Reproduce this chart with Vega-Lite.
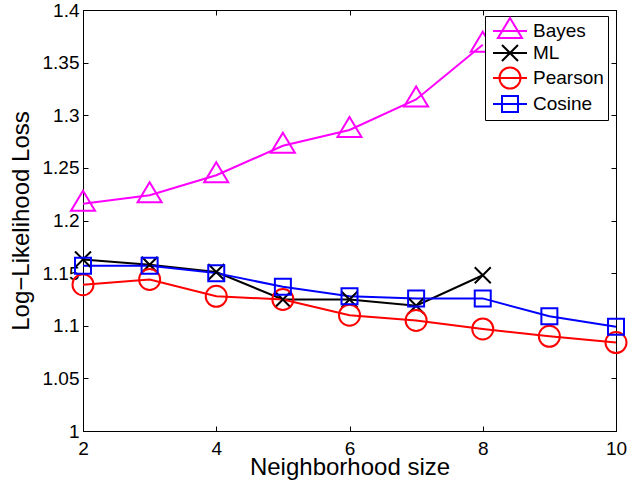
{
  "$schema": "https://vega.github.io/schema/vega-lite/v6.json",
  "autosize": "none",
  "width": 533,
  "height": 421,
  "padding": {"left": 83, "top": 10, "right": 13, "bottom": 49},
  "background": "white",
  "config": {
    "view": {"stroke": "black", "strokeWidth": 1},
    "font": "Liberation Sans",
    "axis": {
      "grid": false,
      "domainColor": "black",
      "tickColor": "black",
      "labelColor": "black",
      "titleColor": "black",
      "labelFont": "Liberation Sans",
      "titleFont": "Liberation Sans",
      "labelFontSize": 19,
      "titleFontSize": 24,
      "titleFontWeight": "normal",
      "tickSize": -5,
      "domainWidth": 1,
      "tickWidth": 1,
      "labelFlush": false,
      "labelOverlap": false
    }
  },
  "data": {
    "values": [
      {"k": 2, "series": "Bayes", "loss": 1.216},
      {"k": 3, "series": "Bayes", "loss": 1.224},
      {"k": 4, "series": "Bayes", "loss": 1.243},
      {"k": 5, "series": "Bayes", "loss": 1.271},
      {"k": 6, "series": "Bayes", "loss": 1.286},
      {"k": 7, "series": "Bayes", "loss": 1.315},
      {"k": 8, "series": "Bayes", "loss": 1.367},
      {"k": 2, "series": "ML", "loss": 1.163},
      {"k": 3, "series": "ML", "loss": 1.158},
      {"k": 4, "series": "ML", "loss": 1.151},
      {"k": 5, "series": "ML", "loss": 1.125},
      {"k": 6, "series": "ML", "loss": 1.125},
      {"k": 7, "series": "ML", "loss": 1.119},
      {"k": 8, "series": "ML", "loss": 1.148},
      {"k": 2, "series": "Pearson", "loss": 1.139},
      {"k": 3, "series": "Pearson", "loss": 1.144},
      {"k": 4, "series": "Pearson", "loss": 1.128},
      {"k": 5, "series": "Pearson", "loss": 1.125},
      {"k": 6, "series": "Pearson", "loss": 1.110},
      {"k": 7, "series": "Pearson", "loss": 1.105},
      {"k": 8, "series": "Pearson", "loss": 1.097},
      {"k": 9, "series": "Pearson", "loss": 1.090},
      {"k": 10, "series": "Pearson", "loss": 1.084},
      {"k": 2, "series": "Cosine", "loss": 1.157},
      {"k": 3, "series": "Cosine", "loss": 1.157},
      {"k": 4, "series": "Cosine", "loss": 1.150},
      {"k": 5, "series": "Cosine", "loss": 1.137},
      {"k": 6, "series": "Cosine", "loss": 1.128},
      {"k": 7, "series": "Cosine", "loss": 1.126},
      {"k": 8, "series": "Cosine", "loss": 1.126},
      {"k": 9, "series": "Cosine", "loss": 1.109},
      {"k": 10, "series": "Cosine", "loss": 1.099}
    ]
  },
  "layer": [
    {
      "mark": {"type": "line", "strokeWidth": 2},
      "encoding": {
        "x": {"field": "k", "type": "quantitative", "scale": {"domain": [2, 10], "nice": false},
              "axis": {"orient": "top", "labels": false, "title": null, "values": [2, 4, 6, 8, 10]}},
        "y": {"field": "loss", "type": "quantitative", "scale": {"domain": [1, 1.4], "nice": false, "zero": false},
              "axis": {"orient": "right", "labels": false, "title": null, "values": [1, 1.05, 1.1, 1.15, 1.2, 1.25, 1.3, 1.35, 1.4]}},
        "color": {"field": "series", "type": "nominal",
                  "scale": {"domain": ["Cosine", "Pearson", "ML", "Bayes"], "range": ["#0000ff", "#ff0000", "#000000", "#ff00ff"]},
                  "legend": null}
      }
    },
    {
      "transform": [{"filter": {"field": "series", "equal": "Bayes"}}],
      "mark": {"type": "point", "shape": "M0,-1.3L1.2,0.7L-1.2,0.7Z", "size": 400, "filled": false, "strokeWidth": 2, "opacity": 1},
      "encoding": {
        "x": {"field": "k", "type": "quantitative", "axis": null},
        "y": {"field": "loss", "type": "quantitative", "axis": null},
        "color": {"field": "series", "type": "nominal", "legend": null}
      }
    },
    {
      "transform": [{"filter": {"field": "series", "equal": "ML"}}],
      "mark": {"type": "point", "shape": "M-0.8,-0.8L0.8,0.8M-0.8,0.8L0.8,-0.8", "size": 400, "filled": false, "strokeWidth": 2, "opacity": 1},
      "encoding": {
        "x": {"field": "k", "type": "quantitative", "axis": null},
        "y": {"field": "loss", "type": "quantitative", "axis": null},
        "color": {"field": "series", "type": "nominal", "legend": null}
      }
    },
    {
      "transform": [{"filter": {"field": "series", "equal": "Pearson"}}],
      "mark": {"type": "point", "shape": "M1.05,0A1.05,1.05,0,1,1,-1.05,0A1.05,1.05,0,1,1,1.05,0Z", "size": 400, "filled": false, "strokeWidth": 2, "opacity": 1},
      "encoding": {
        "x": {"field": "k", "type": "quantitative", "axis": null},
        "y": {"field": "loss", "type": "quantitative", "axis": null},
        "color": {"field": "series", "type": "nominal", "legend": null}
      }
    },
    {
      "transform": [{"filter": {"field": "series", "equal": "Cosine"}}],
      "mark": {"type": "point", "shape": "M-0.8,-0.8L0.8,-0.8L0.8,0.8L-0.8,0.8Z", "size": 400, "filled": false, "strokeWidth": 2, "opacity": 1},
      "encoding": {
        "x": {"field": "k", "type": "quantitative", "axis": null},
        "y": {"field": "loss", "type": "quantitative", "axis": null},
        "color": {"field": "series", "type": "nominal", "legend": null}
      }
    },
    {
      "mark": {"type": "point", "size": 400, "filled": false, "strokeWidth": 2, "opacity": 0},
      "encoding": {
        "x": {"field": "k", "type": "quantitative",
              "axis": {"orient": "bottom", "values": [2, 4, 6, 8, 10], "title": "Neighborhood size", "labelPadding": 13, "titlePadding": -3}},
        "y": {"field": "loss", "type": "quantitative",
              "axis": {"orient": "left", "values": [1, 1.05, 1.1, 1.15, 1.2, 1.25, 1.3, 1.35, 1.4], "format": ".2~f", "title": "Log−Likelihood Loss", "labelPadding": 9, "titlePadding": 9}},
        "stroke": {"field": "series", "type": "nominal",
                  "scale": {"domain": ["Bayes", "ML", "Pearson", "Cosine"], "range": ["#ff00ff", "#000000", "#ff0000", "#0000ff"]},
                  "legend": {"orient": "none", "legendX": 402, "legendY": 6, "title": null, "padding": 4, "rowPadding": -2,
                             "symbolOffset": 10, "labelOffset": 12, "symbolSize": 400, "symbolStrokeWidth": 2, "symbolOpacity": 1,
                             "labelFontSize": 19, "labelFont": "Liberation Sans", "labelColor": "black",
                             "strokeColor": "black", "fillColor": "white"}},
        "shape": {"field": "series", "type": "nominal",
                  "scale": {"domain": ["Bayes", "ML", "Pearson", "Cosine"],
                            "range": ["M-1.7,0L1.7,0M0,-1.3L1.2,0.7L-1.2,0.7Z", "M-1.7,0L1.7,0M-0.8,-0.8L0.8,0.8M-0.8,0.8L0.8,-0.8", "M-1.7,0L1.7,0M1.05,0A1.05,1.05,0,1,1,-1.05,0A1.05,1.05,0,1,1,1.05,0Z", "M-1.7,0L1.7,0M-0.8,-0.8L0.8,-0.8L0.8,0.8L-0.8,0.8Z"]},
                  "legend": {"orient": "none", "legendX": 402, "legendY": 6, "title": null, "padding": 4, "rowPadding": -2,
                             "symbolOffset": 10, "labelOffset": 12, "symbolSize": 400, "symbolStrokeWidth": 2, "symbolOpacity": 1,
                             "labelFontSize": 19, "labelFont": "Liberation Sans", "labelColor": "black",
                             "strokeColor": "black", "fillColor": "white"}}
      }
    }
  ]
}
